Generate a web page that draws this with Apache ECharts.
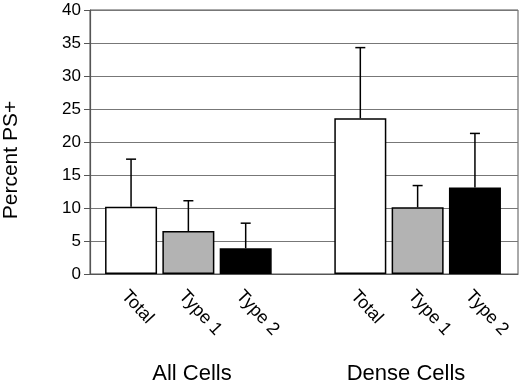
<!DOCTYPE html>
<html>
<head>
<meta charset="utf-8">
<script src="https://cdn.jsdelivr.net/npm/echarts@6/dist/echarts.min.js"></script>
<style>
  html, body { margin: 0; padding: 0; background: #fff; }
  #chart { width: 520px; height: 384px; }
</style>
</head>
<body>
<div id="chart"></div>
<script>
// bar labels (a blank slot separates the two groups)
var categories = ['Total', 'Type 1', 'Type 2', '', 'Total', 'Type 1', 'Type 2'];
var groupNames = ['All Cells', 'Dense Cells'];
// percent PS+ and the upper error (SD)
var allCells = [10.2, 6.5, 3.9];
var allErr = [7.2, 4.6, 3.8];
var denseCells = [23.6, 10.1, 13.1];
var denseErr = [10.7, 3.3, 8.2];
var yTicks = [0, 40, 5]; // min, max, interval

var fills = ['#ffffff', '#b3b3b3', '#000000'];
var font = '"Liberation Sans", Arial, sans-serif';

var values = allCells.concat([null], denseCells);
var errs = allErr.concat([null], denseErr);

var barData = values.map(function (v, i) {
    if (v === null) return '-';
    return { value: v, itemStyle: { color: fills[i % 4] } };
});
var errData = [];
values.forEach(function (v, i) {
    if (v !== null) errData.push([i, v, v + errs[i]]);
});

var mychart = echarts.init(document.getElementById('chart'));
var option = {
    animation: false,
    grid: [
        { left: 90, right: 2, top: 10, bottom: 110, show: true, borderColor: '#555', borderWidth: 1 },
        { left: 102.4, right: 16.4, top: 10, bottom: 110 }
    ],
    xAxis: [
        {
            gridIndex: 0, type: 'value', min: 0, max: 1,
            axisLine: { show: true, lineStyle: { color: '#555', width: 1.2 } },
            axisTick: { show: false }, axisLabel: { show: false }, splitLine: { show: false }
        },
        {
            gridIndex: 1, type: 'category', data: categories,
            axisLine: { show: false }, axisTick: { show: false },
            axisLabel: {
                interval: 0, rotate: -47, margin: 13, verticalAlign: 'top',
                color: '#000', fontSize: 18, fontFamily: font
            }
        }
    ],
    yAxis: [
        {
            gridIndex: 0, type: 'value', min: yTicks[0], max: yTicks[1], interval: yTicks[2],
            axisLine: { show: true, lineStyle: { color: '#555', width: 1.2 } },
            axisTick: { show: true, inside: false, length: 6, lineStyle: { color: '#555' } },
            axisLabel: { color: '#000', fontSize: 17, fontFamily: font, margin: 9 },
            splitLine: { show: true, lineStyle: { color: '#777', width: 1 } }
        },
        {
            gridIndex: 1, type: 'value', min: yTicks[0], max: yTicks[1],
            show: false
        }
    ],
    graphic: [
        {
            type: 'text', x: 11, y: 160, rotation: Math.PI / 2,
            style: { text: 'Percent PS+', fill: '#000', font: '21px ' + font, align: 'center', verticalAlign: 'middle' }
        },
        {
            type: 'text', x: 192, y: 374,
            style: { text: groupNames[0], fill: '#000', font: '22px ' + font, align: 'center', verticalAlign: 'middle' }
        },
        {
            type: 'text', x: 406, y: 374,
            style: { text: groupNames[1], fill: '#000', font: '22px ' + font, align: 'center', verticalAlign: 'middle' }
        }
    ],
    series: [
        {
            type: 'custom',
            xAxisIndex: 1, yAxisIndex: 1,
            data: errData,
            z: 1,
            renderItem: function (params, api) {
                var x = api.value(0);
                var lo = api.coord([x, api.value(1)]);
                var hi = api.coord([x, api.value(2)]);
                var st = { stroke: '#000', lineWidth: 1.5 };
                return {
                    type: 'group',
                    children: [
                        { type: 'line', shape: { x1: lo[0], y1: lo[1], x2: hi[0], y2: hi[1] }, style: st },
                        { type: 'line', shape: { x1: hi[0] - 5, y1: hi[1], x2: hi[0] + 5, y2: hi[1] }, style: st }
                    ]
                };
            }
        },
        {
            type: 'bar',
            xAxisIndex: 1, yAxisIndex: 1,
            barWidth: 52,
            data: barData,
            z: 2,
            itemStyle: { borderColor: '#000', borderWidth: 1.5 }
        }
    ]
};
mychart.setOption(option);
</script>
</body>
</html>
